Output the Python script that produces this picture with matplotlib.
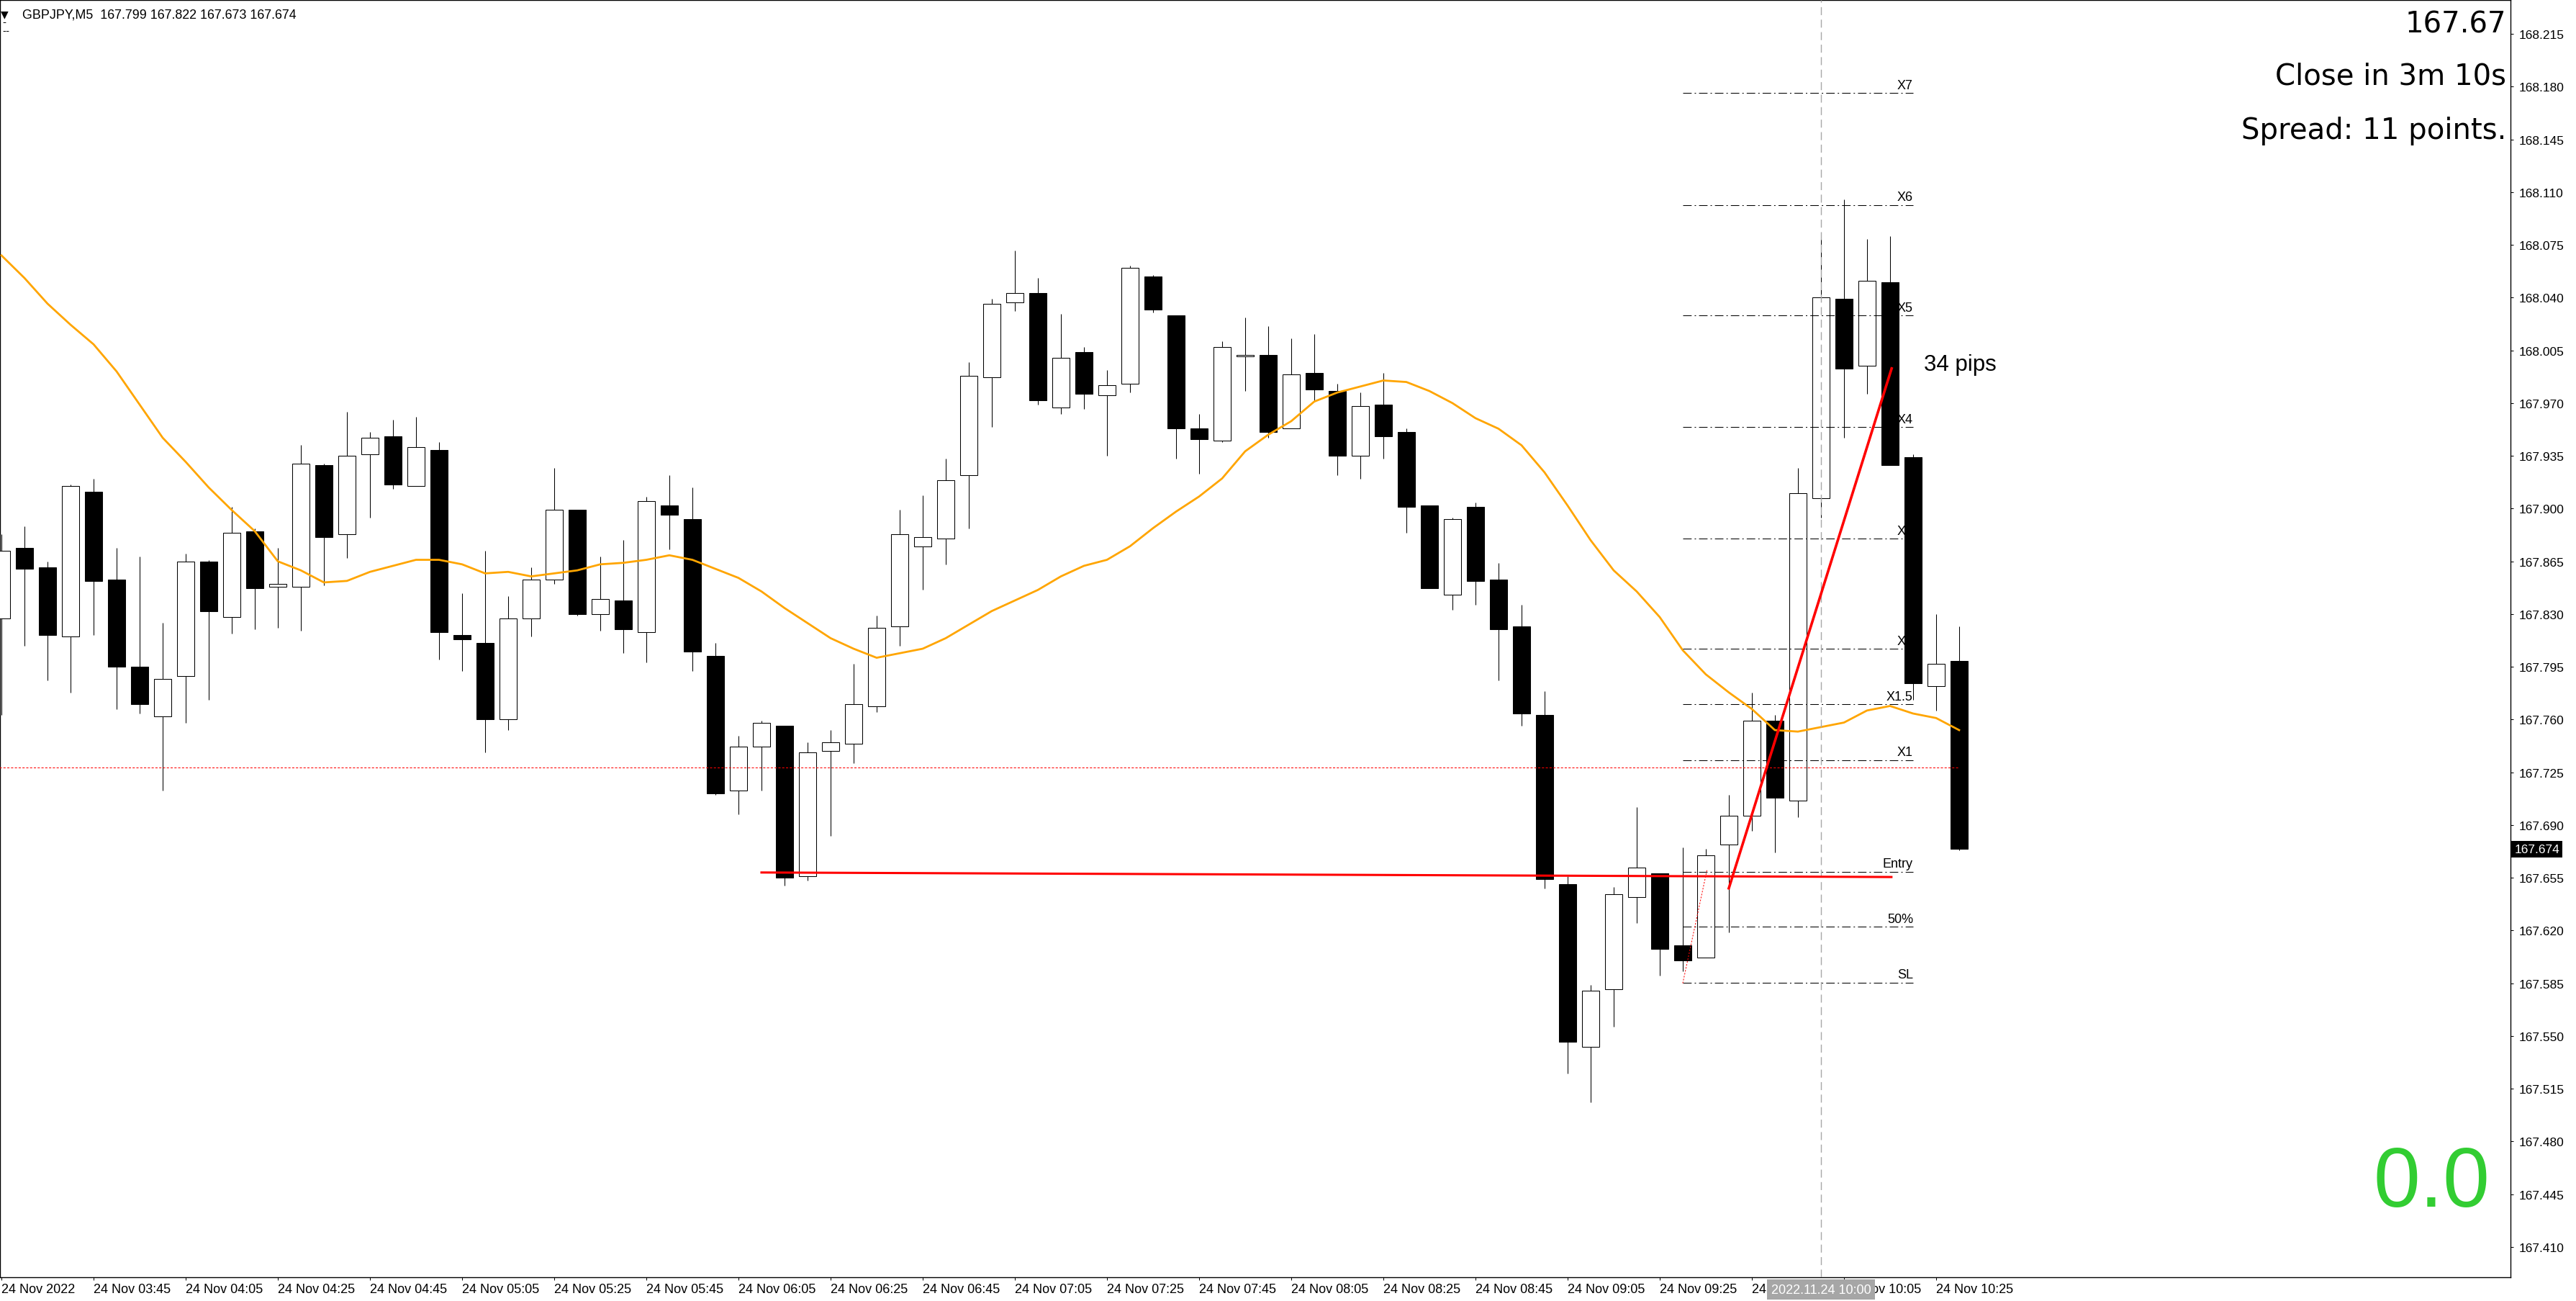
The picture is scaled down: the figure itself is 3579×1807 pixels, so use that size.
import matplotlib

matplotlib.use('Agg')
import matplotlib.pyplot as plt  # noqa: E402
import matplotlib.transforms as mtransforms  # noqa: E402
import numpy as np  # noqa: E402
import pandas as pd  # noqa: E402

W, H = 3580, 1808
plt.rcParams['font.family'] = ['Liberation Sans', 'DejaVu Sans']
plt.rcParams['lines.scale_dashes'] = False

# GBPJPY M5 bars, 24 Nov 2022 from 03:25
bar_times = pd.date_range('2022-11-24 03:25', periods=86, freq='5min')
opens = [167.827, 167.874, 167.861, 167.815, 167.911, 167.853, 167.795, 167.762, 167.789, 167.865,
         167.828, 167.885, 167.848, 167.848, 167.929, 167.883, 167.936, 167.948, 167.915, 167.939,
         167.816, 167.811, 167.760, 167.827, 167.853, 167.899, 167.830, 167.839, 167.818, 167.902,
         167.893, 167.802, 167.713, 167.742, 167.756, 167.656, 167.739, 167.744, 167.769, 167.822,
         167.875, 167.880, 167.922, 167.987, 168.037, 168.043, 167.967, 168.004, 167.975, 167.983,
         168.054, 168.028, 167.953, 167.945, 168.001, 168.002, 167.953, 167.990, 167.978, 167.935,
         167.969, 167.951, 167.902, 167.843, 167.901, 167.853, 167.822, 167.763, 167.651, 167.543,
         167.581, 167.642, 167.658, 167.610, 167.602, 167.677, 167.696, 167.759, 167.706, 167.907,
         168.039, 167.995, 168.050, 167.934, 167.782, 167.799]
highs = [167.883, 167.888, 167.865, 167.916, 167.920, 167.874, 167.868, 167.824, 167.870, 167.866,
         167.901, 167.887, 167.874, 167.942, 167.930, 167.964, 167.951, 167.959, 167.961, 167.944,
         167.844, 167.872, 167.842, 167.861, 167.927, 167.899, 167.868, 167.879, 167.908, 167.922,
         167.914, 167.811, 167.749, 167.759, 167.756, 167.745, 167.753, 167.797, 167.829, 167.899,
         167.909, 167.933, 167.997, 168.039, 168.071, 168.053, 168.029, 168.007, 167.992, 168.061,
         168.055, 168.028, 167.963, 168.011, 168.027, 168.021, 168.013, 168.016, 167.983, 167.977,
         167.990, 167.953, 167.902, 167.894, 167.904, 167.864, 167.836, 167.779, 167.656, 167.584,
         167.649, 167.702, 167.658, 167.675, 167.674, 167.710, 167.778, 167.763, 167.927, 168.079,
         168.105, 168.079, 168.081, 167.936, 167.830, 167.822]
lows = [167.763, 167.809, 167.786, 167.778, 167.816, 167.767, 167.764, 167.713, 167.758, 167.773,
        167.817, 167.820, 167.821, 167.819, 167.849, 167.867, 167.894, 167.913, 167.915, 167.800,
        167.792, 167.738, 167.753, 167.815, 167.850, 167.829, 167.819, 167.804, 167.798, 167.873,
        167.792, 167.710, 167.697, 167.713, 167.650, 167.653, 167.683, 167.731, 167.765, 167.809,
        167.846, 167.863, 167.887, 167.954, 168.031, 167.969, 167.963, 167.966, 167.935, 167.977,
        168.030, 167.933, 167.923, 167.944, 167.978, 167.947, 167.953, 167.972, 167.922, 167.920,
        167.933, 167.884, 167.847, 167.833, 167.836, 167.786, 167.756, 167.648, 167.525, 167.506,
        167.556, 167.625, 167.590, 167.593, 167.602, 167.619, 167.686, 167.672, 167.695, 167.894,
        167.947, 167.976, 167.929, 167.773, 167.766, 167.673]
closes = [167.872, 167.860, 167.816, 167.915, 167.852, 167.795, 167.770, 167.787, 167.865, 167.832,
          167.884, 167.847, 167.850, 167.930, 167.881, 167.935, 167.947, 167.916, 167.941, 167.818,
          167.813, 167.760, 167.827, 167.853, 167.899, 167.830, 167.840, 167.820, 167.905, 167.896,
          167.805, 167.711, 167.742, 167.758, 167.655, 167.738, 167.745, 167.770, 167.821, 167.883,
          167.881, 167.919, 167.988, 168.036, 168.043, 167.972, 168.000, 167.976, 167.982, 168.060,
          168.032, 167.953, 167.946, 168.007, 168.002, 167.951, 167.989, 167.979, 167.935, 167.968,
          167.948, 167.901, 167.847, 167.893, 167.852, 167.820, 167.764, 167.654, 167.546, 167.580,
          167.644, 167.662, 167.608, 167.600, 167.670, 167.696, 167.759, 167.708, 167.910, 168.040,
          167.993, 168.051, 167.929, 167.784, 167.797, 167.674]
ma_values = [168.068, 168.053, 168.036, 168.022, 168.009, 167.991, 167.969, 167.947, 167.931, 167.914,
             167.899, 167.885, 167.865, 167.859, 167.851, 167.852, 167.858, 167.862, 167.866, 167.866,
             167.863, 167.857, 167.858, 167.855, 167.857, 167.859, 167.863, 167.864, 167.866, 167.869,
             167.866, 167.860, 167.854, 167.845, 167.834, 167.824, 167.814, 167.807, 167.801, 167.804,
             167.807, 167.814, 167.823, 167.832, 167.839, 167.846, 167.855, 167.862, 167.866, 167.875,
             167.887, 167.898, 167.908, 167.920, 167.938, 167.949, 167.958, 167.971, 167.977, 167.981,
             167.985, 167.984, 167.978, 167.970, 167.960, 167.953, 167.942, 167.924, 167.902, 167.879,
             167.859, 167.845, 167.828, 167.806, 167.790, 167.778, 167.767, 167.753, 167.752, 167.755,
             167.758, 167.766, 167.769, 167.764, 167.761, 167.753]

# trade levels drawn on the chart
level_names = ['SL', '50%', 'Entry', 'X1', 'X1.5', 'X2', 'X3', 'X4', 'X5', 'X6', 'X7']
level_prices = [167.5855, 167.6225, 167.659, 167.733, 167.770, 167.807,
                167.880, 167.954, 168.028, 168.1015, 168.1757]
level_bars = [73, 83]

entry_line_bars = [33, 82.06]
entry_line_prices = [167.6585, 167.6555]
move_line_bars = [75.0, 82.07]
move_line_prices = [167.648, 167.993]
setup_line_bars = [73.0, 74.05]
setup_line_prices = [167.585, 167.660]
move_label = '34 pips'
alert_price = 167.728
bid_price = 167.674
cursor_bar = 79

y_ticks = np.round(np.arange(167.410, 168.2151, 0.035), 3)
x_tick_bars = [0] + list(range(4, 85, 4))
x_tick_labels = ['24 Nov 2022'] + [bar_times[i].strftime('%d %b %H:%M') for i in x_tick_bars[1:]]


def px(x, y):
    return x / W, 1 - y / H


fig = plt.figure(figsize=(W / 100, H / 100), dpi=100)
ax = fig.add_axes([0, (H - 1775) / H, 3488 / W, 1774 / H])
ax.set_xlim(-0.0625, 108.94)
ax.set_ylim(167.3899, 168.2375)

x = np.arange(len(opens))
o = np.array(opens)
c = np.array(closes)
up = c >= o
body_low = np.minimum(o, c)
body_h = np.maximum(np.abs(c - o), 0.0004)

ax.vlines(x, lows, highs, color='black', lw=0.75, zorder=3)
ax.bar(x[up], body_h[up], bottom=body_low[up], width=0.75,
       facecolor='white', edgecolor='black', lw=0.75, zorder=4)
ax.bar(x[~up], body_h[~up], bottom=body_low[~up], width=0.75,
       facecolor='black', edgecolor='black', lw=0.75, zorder=4)

ax.plot(x, ma_values, color='#ffa500', lw=2.0, zorder=5)

for name, price in zip(level_names, level_prices):
    ax.plot(level_bars, [price, price], color='black', lw=0.75,
            dashes=(8.5, 3.0, 1.4, 3.0), zorder=6)
    ax.text(level_bars[1], price + 0.0012, name, ha='right', va='bottom',
            fontsize=13, color='black', zorder=2)

ax.plot([x[0] - 1, x[-1]], [alert_price, alert_price], color='red', lw=0.75,
        dashes=(2.2, 1.6), zorder=6)
ax.axvline(cursor_bar, color='#a8a8a8', lw=1.0, dashes=(8, 4.5), zorder=6)

ax.plot(entry_line_bars, entry_line_prices, color='red', lw=2.2, zorder=7)
ax.plot(setup_line_bars, setup_line_prices, color='red', lw=0.75, dashes=(1.5, 1.5), zorder=7)
ax.plot(move_line_bars, move_line_prices, color='red', lw=2.6, zorder=7)
ax.text(move_line_bars[1] + 1.4, move_line_prices[1] - 0.001, move_label,
        ha='left', va='baseline', fontsize=22.5, color='black', zorder=8)

# axes styling
for side in ['left', 'top', 'right', 'bottom']:
    ax.spines[side].set_color('black')
    ax.spines[side].set_linewidth(1.0)
ax.yaxis.tick_right()
ax.set_yticks(y_ticks)
ax.set_yticklabels([f'{v:.3f}' for v in y_ticks])
ax.tick_params(axis='y', direction='out', length=3, width=0.75, pad=5.5, labelsize=12.5)
ax.set_xticks(x_tick_bars)
ax.set_xticklabels(x_tick_labels)
ax.tick_params(axis='x', direction='out', length=3, width=0.75, pad=3, labelsize=13)
for label in ax.get_xticklabels():
    label.set_horizontalalignment('left')

right_tf = mtransforms.blended_transform_factory(ax.transAxes, ax.transData)
ax.text(1.0015, bid_price, '167.674', transform=right_tf, ha='left', va='center',
        fontsize=12.5, color='white', clip_on=False, zorder=10,
        bbox=dict(facecolor='black', edgecolor='none', pad=3.0))
bottom_tf = mtransforms.blended_transform_factory(ax.transData, ax.transAxes)
ax.text(cursor_bar, -0.0048, bar_times[cursor_bar].strftime('%Y.%m.%d %H:%M'),
        transform=bottom_tf, ha='center', va='top', fontsize=13, color='white',
        clip_on=False, zorder=10,
        bbox=dict(facecolor='#a6a6a6', edgecolor='none', pad=4.0))

# header and info texts
fig.text(*px(1, 24), '\u25bc', fontsize=10, color='black', ha='left', va='baseline',
         family='DejaVu Sans')
fig.text(*px(31, 25), 'GBPJPY,M5  167.799 167.822 167.673 167.674',
         fontsize=12.9, color='black', ha='left', va='baseline')
fig.text(*px(3, 35), '-', fontsize=11, color='black', ha='left', va='baseline')
fig.text(*px(3, 47), '--', fontsize=11, color='black', ha='left', va='baseline')

info_font = ['DejaVu Sans']
fig.text(*px(3482, 45), '167.67', fontsize=29, color='black', ha='right', va='baseline',
         family=info_font)
fig.text(*px(3482, 117), 'Close in 3m 10s', fontsize=29, color='black', ha='right',
         va='baseline', family=info_font)
fig.text(*px(3482, 193), 'Spread: 11 points.', fontsize=29, color='black', ha='right',
         va='baseline', family=info_font)
fig.text(*px(3459, 1676), '0.0', fontsize=84, color='#32cd32', ha='right', va='baseline')

fig.savefig('out.png', dpi=100, facecolor='white')
plt.close(fig)
